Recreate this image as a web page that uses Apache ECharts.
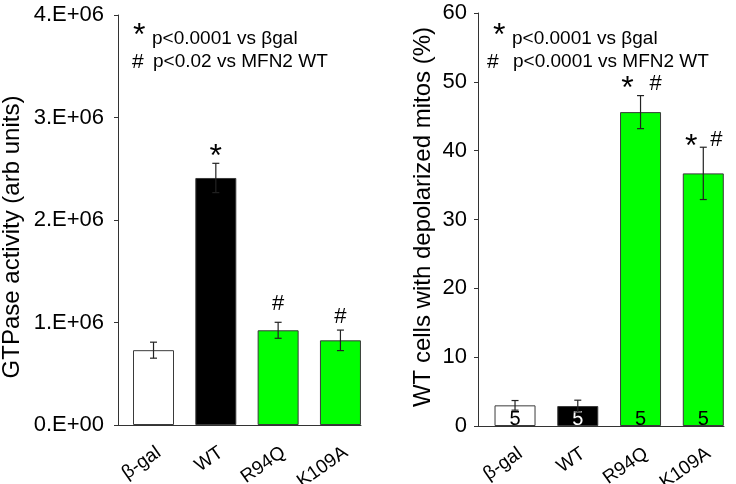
<!DOCTYPE html>
<html>
<head>
<meta charset="utf-8">
<script src="https://cdn.jsdelivr.net/npm/echarts@6/dist/echarts.min.js"></script>
<style>html,body{margin:0;padding:0;background:#fff}#c{width:736px;height:484px}</style>
</head>
<body>
<div id="c"></div>
<script>
const categories = ['β-gal', 'WT', 'R94Q', 'K109A'];
const gtpaseMean = [0.73e6, 2.41e6, 0.924e6, 0.826e6];
const gtpaseErr = [0.078e6, 0.143e6, 0.078e6, 0.10e6];
const gtpaseTicks = ['0.E+00', '1.E+06', '2.E+06', '3.E+06', '4.E+06'];
const gtpaseSig = ['', '*', '#', '#'];
const depolMean = [3.0, 2.9, 45.6, 36.7];
const depolErr = [0.7, 0.85, 2.4, 3.8];
const depolN = [5, 5, 5, 5];
const depolStar = ['', '', '*', '*'];
const depolHash = ['', '', '#', '#'];
const barColors = ['#ffffff', '#000000', '#00ff00', '#00ff00'];
const nLabelColors = ['#000000', '#ffffff', '#000000', '#000000'];
const leftNotes = ['p<0.0001 vs βgal', 'p<0.02 vs MFN2 WT'];
const rightNotes = ['p<0.0001 vs βgal', 'p<0.0001 vs MFN2 WT'];

const FONT = '"Liberation Sans", Arial, sans-serif';
const AX = '#333333';
// marker placement (style): [dx, dy] relative to top of error bar
const leftMarkOffset = [[0, 0], [0, -6], [0, -18], [0, -13]];
const rightStarOffset = [[0, 0], [0, 0], [-13, -6], [-12, 0]];
const rightHashOffset = [[0, 0], [0, 0], [15, -12], [13, -7]];

const chart = echarts.init(document.getElementById('c'));

function xAxisCfg(idx, min, max) {
  return {
    type: 'value', gridIndex: idx, min: min, max: max,
    splitLine: { show: false },
    axisTick: { show: false },
    axisLine: { show: true, onZero: false, lineStyle: { color: AX, width: 1 } },
    axisLabel: {
      customValues: [0, 1, 2, 3],
      formatter: v => categories[Math.round(v)],
      rotate: 35, margin: 18, verticalAlign: 'top', fontSize: 19, color: '#000', fontFamily: FONT
    }
  };
}
function yAxisCfg(idx, max, interval, fmt, margin) {
  return {
    type: 'value', gridIndex: idx, min: 0, max: max, interval: interval,
    splitLine: { show: false },
    axisTick: { show: true, length: 4, lineStyle: { color: AX } },
    axisLine: { show: true, onZero: false, lineStyle: { color: AX, width: 1 } },
    axisLabel: { formatter: fmt, margin: margin, fontSize: 22, color: '#000', fontFamily: FONT }
  };
}
function barSeries(idx, means, withN) {
  return {
    type: 'bar', xAxisIndex: idx, yAxisIndex: idx, barWidth: 41,
    data: means.map((m, i) => ({
      value: [i, m],
      itemStyle: { color: barColors[i], borderColor: '#3a3a3a', borderWidth: 1 },
      label: withN ? { show: true, position: 'insideBottom', distance: -3,
        formatter: String(depolN[i]), color: nLabelColors[i], fontSize: 20, fontFamily: FONT } : { show: false }
    })),
    z: 2
  };
}
function errSeries(idx, means, errs, marks) {
  return {
    type: 'custom', xAxisIndex: idx, yAxisIndex: idx, z: 5,
    data: means.map((m, i) => [i, m, errs[i]]),
    renderItem: (params, api) => {
      const i = api.value(0), m = api.value(1), e = api.value(2);
      const t = api.coord([i, m + e]), b = api.coord([i, m - e]);
      const w = 3.5;
      const st = { stroke: '#222', lineWidth: 1.2 };
      const ch = [
        { type: 'line', shape: { x1: t[0], y1: t[1], x2: b[0], y2: b[1] }, style: st },
        { type: 'line', shape: { x1: t[0] - w, y1: t[1], x2: t[0] + w, y2: t[1] }, style: st },
        { type: 'line', shape: { x1: b[0] - w, y1: b[1], x2: b[0] + w, y2: b[1] }, style: st }
      ];
      marks(i).forEach(mk => {
        if (!mk.text) return;
        ch.push({ type: 'text', x: t[0] + mk.dx, y: t[1] + mk.dy, style: {
          text: mk.text, fill: '#000', font: (mk.text === '*' ? '32px ' : '22px ') + FONT,
          align: 'center', verticalAlign: 'middle' } });
      });
      return { type: 'group', children: ch };
    }
  };
}
function noteText(x, y, text, size) {
  return { type: 'text', x: x, y: y, style: { text: text, fill: '#000', font: size + 'px ' + FONT, verticalAlign: 'middle' } };
}

chart.setOption({
  animation: false,
  grid: [
    { left: 118, top: 15, width: 243, height: 410, outerBoundsMode: 'none', containLabel: false },
    { left: 478, top: 13, width: 246, height: 413, outerBoundsMode: 'none', containLabel: false }
  ],
  xAxis: [xAxisCfg(0, -0.57, 3.33), xAxisCfg(1, -0.59, 3.33)],
  yAxis: [
    yAxisCfg(0, 4e6, 1e6, v => gtpaseTicks[Math.round(v / 1e6)], 14),
    yAxisCfg(1, 60, 10, v => String(v), 11)
  ],
  series: [
    barSeries(0, gtpaseMean, false),
    errSeries(0, gtpaseMean, gtpaseErr, i => [{ text: gtpaseSig[i], dx: leftMarkOffset[i][0], dy: leftMarkOffset[i][1] }]),
    barSeries(1, depolMean, true),
    errSeries(1, depolMean, depolErr, i => [
      { text: depolStar[i], dx: rightStarOffset[i][0], dy: rightStarOffset[i][1] },
      { text: depolHash[i], dx: rightHashOffset[i][0], dy: rightHashOffset[i][1] }
    ])
  ],
  graphic: [
    { type: 'text', x: 12, y: 237, rotation: Math.PI / 2, style: { text: 'GTPase activity (arb units)', fill: '#000', font: '24px ' + FONT, align: 'center', verticalAlign: 'middle' } },
    { type: 'text', x: 423, y: 217, rotation: Math.PI / 2, style: { text: 'WT cells with depolarized mitos (%)', fill: '#000', font: '24px ' + FONT, align: 'center', verticalAlign: 'middle' } },
    noteText(133, 36, '*', 32), noteText(152, 39, leftNotes[0], 19),
    noteText(132, 62, '#', 21), noteText(153, 62, leftNotes[1], 19),
    noteText(493, 36, '*', 32), noteText(512, 39, rightNotes[0], 19),
    noteText(487, 62, '#', 21), noteText(513, 62, rightNotes[1], 19)
  ]
});
</script>
</body>
</html>
